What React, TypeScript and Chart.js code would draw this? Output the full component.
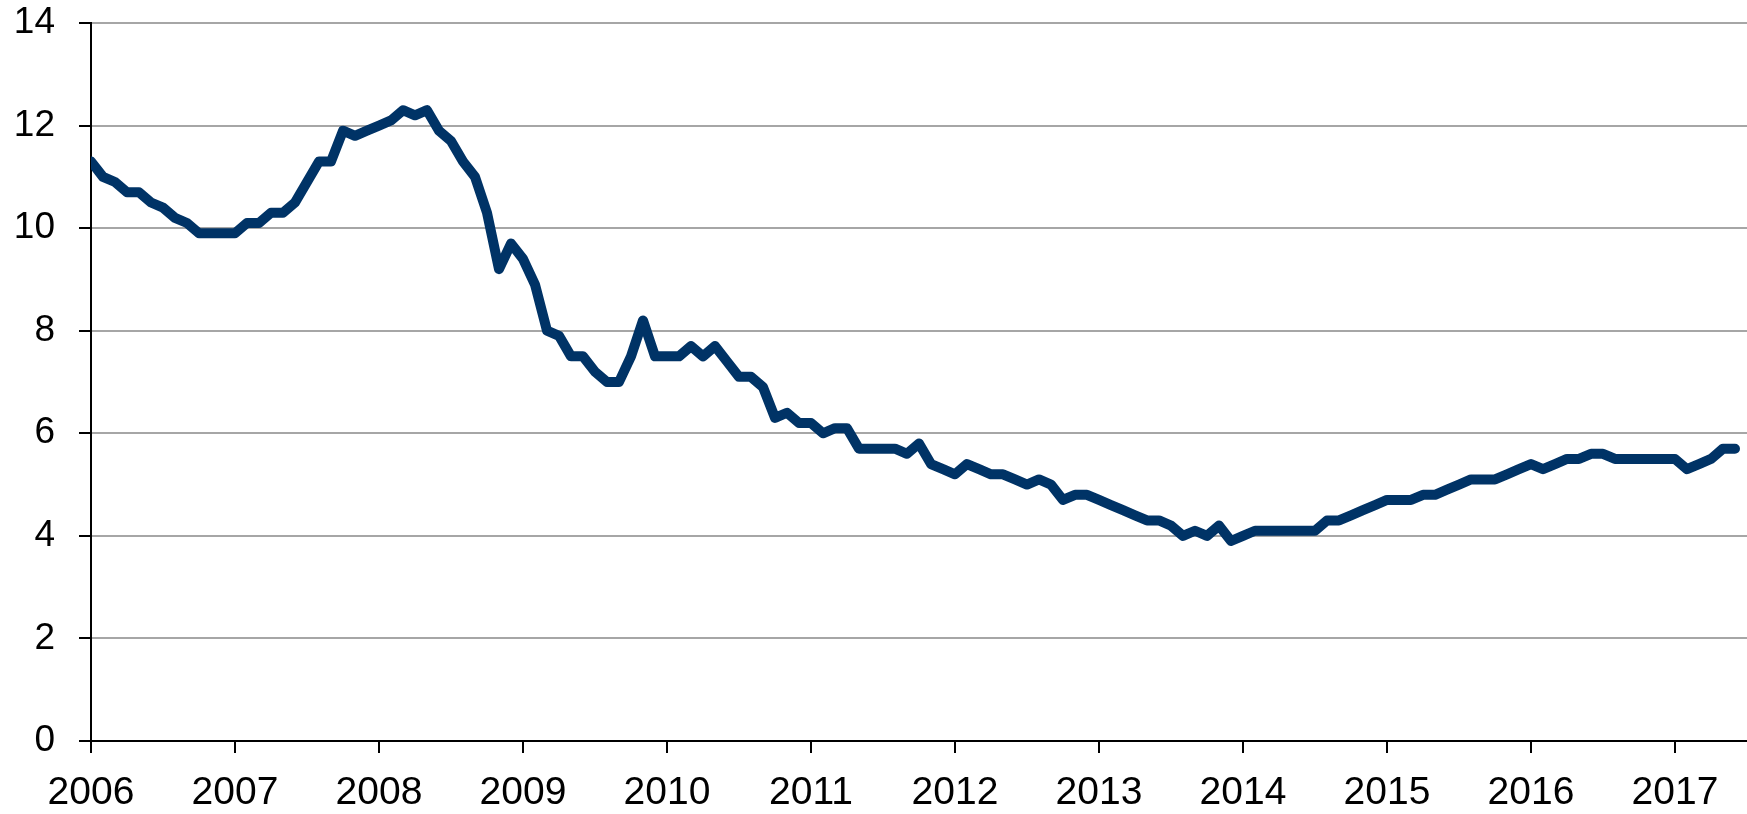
import React, { useEffect, useRef } from "react";
import { Chart, registerables } from "chart.js";

Chart.register(...registerables);

const yearLabels = ["2006", "2007", "2008", "2009", "2010", "2011", "2012", "2013", "2014", "2015", "2016", "2017"];

const values2006 = [11.3, 11.0, 10.9, 10.7, 10.7, 10.5, 10.4, 10.2, 10.1, 9.9, 9.9, 9.9];
const values2007 = [9.9, 10.1, 10.1, 10.3, 10.3, 10.5, 10.9, 11.3, 11.3, 11.9, 11.8, 11.9];
const values2008 = [12.0, 12.1, 12.3, 12.2, 12.3, 11.9, 11.7, 11.3, 11.0, 10.3, 9.2, 9.7];
const values2009 = [9.4, 8.9, 8.0, 7.9, 7.5, 7.5, 7.2, 7.0, 7.0, 7.5, 8.2, 7.5];
const values2010 = [7.5, 7.5, 7.7, 7.5, 7.7, 7.4, 7.1, 7.1, 6.9, 6.3, 6.4, 6.2];
const values2011 = [6.2, 6.0, 6.1, 6.1, 5.7, 5.7, 5.7, 5.7, 5.6, 5.8, 5.4, 5.3];
const values2012 = [5.2, 5.4, 5.3, 5.2, 5.2, 5.1, 5.0, 5.1, 5.0, 4.7, 4.8, 4.8];
const values2013 = [4.7, 4.6, 4.5, 4.4, 4.3, 4.3, 4.2, 4.0, 4.1, 4.0, 4.2, 3.9];
const values2014 = [4.0, 4.1, 4.1, 4.1, 4.1, 4.1, 4.1, 4.3, 4.3, 4.4, 4.5, 4.6];
const values2015 = [4.7, 4.7, 4.7, 4.8, 4.8, 4.9, 5.0, 5.1, 5.1, 5.1, 5.2, 5.3];
const values2016 = [5.4, 5.3, 5.4, 5.5, 5.5, 5.6, 5.6, 5.5, 5.5, 5.5, 5.5, 5.5];
const values2017 = [5.5, 5.3, 5.4, 5.5, 5.7, 5.7];

const yTicks = [0, 2, 4, 6, 8, 10, 12, 14];

const monthlyValues = [
  ...values2006, ...values2007, ...values2008, ...values2009, ...values2010, ...values2011,
  ...values2012, ...values2013, ...values2014, ...values2015, ...values2016, ...values2017,
];

const FONT = "'Liberation Sans', Arial, sans-serif";

export default function App() {
  const canvasRef = useRef<HTMLCanvasElement | null>(null);

  useEffect(() => {
    if (!canvasRef.current) return;
    const points = monthlyValues.map((v, i) => ({ x: i, y: v }));
    const chart = new Chart(canvasRef.current, {
      type: "line",
      data: {
        datasets: [
          {
            data: points,
            borderColor: "#003366",
            backgroundColor: "#003366",
            borderWidth: 10,
            pointRadius: 0,
            tension: 0,
            borderCapStyle: "round",
            borderJoinStyle: "round",
            fill: false,
          },
        ],
      },
      options: {
        responsive: false,
        animation: false,
        devicePixelRatio: 1,
        layout: { padding: { top: 23, right: 0, left: 0, bottom: 0 } },
        plugins: { legend: { display: false }, tooltip: { enabled: false } },
        scales: {
          x: {
            type: "linear",
            min: 0,
            max: 138,
            afterBuildTicks: (scale: any) => {
              scale.ticks = yearLabels.map((_, i) => ({ value: i * 12 }));
            },
            afterFit: (scale: any) => {
              scale.height = 73;
              scale.paddingLeft = 0;
              scale.paddingRight = 0;
            },
            ticks: {
              autoSkip: false,
              maxRotation: 0,
              minRotation: 0,
              padding: 17,
              color: "#000",
              font: { family: FONT, size: 39 },
              callback: (v: any) => yearLabels[Math.round(Number(v) / 12)] ?? "",
            },
            grid: {
              drawOnChartArea: false,
              drawTicks: true,
              tickLength: 12,
              tickColor: "#000",
              tickWidth: 2,
              lineWidth: 2,
            },
            border: { color: "#000", width: 2 },
          },
          y: {
            min: 0,
            max: 14,
            afterBuildTicks: (scale: any) => {
              scale.ticks = yTicks.map((v) => ({ value: v }));
            },
            afterFit: (scale: any) => {
              scale.width = 91;
              scale.paddingTop = 0;
              scale.paddingBottom = 0;
            },
            ticks: {
              padding: 24,
              color: "#000",
              font: { family: FONT, size: 37, lineHeight: 1 },
            },
            grid: {
              color: (ctx: any) => (ctx.tick && ctx.tick.value === 0 ? "rgba(0,0,0,0)" : "#A6A6A6"),
              lineWidth: 2,
              drawTicks: true,
              tickLength: 12,
              tickColor: "#000",
              tickWidth: 2,
            },
            border: { color: "#000", width: 2 },
          },
        },
      },
    });
    return () => chart.destroy();
  }, []);

  return (
    <div style={{ position: "fixed", left: 0, top: 0, width: 1747, height: 814, background: "#fff" }}>
      <canvas ref={canvasRef} width={1747} height={814} style={{ display: "block" }} />
    </div>
  );
}
